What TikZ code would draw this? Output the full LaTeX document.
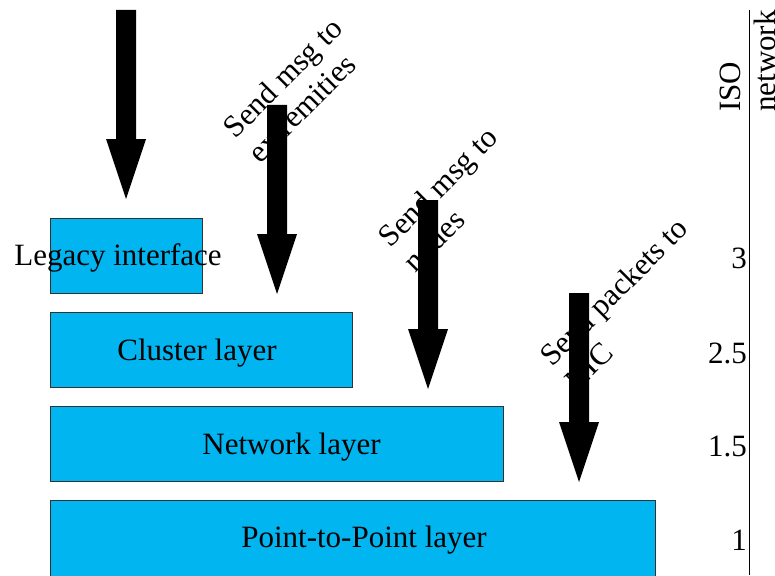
\documentclass[tikz,border=0pt]{standalone}
\usepackage{fontspec}
\setmainfont{Liberation Serif}
\definecolor{layerblue}{RGB}{0,181,240}
\begin{document}
\begin{tikzpicture}[x=1pt,y=-1pt,
	layer/.style={draw=black!80,line width=0.9pt,fill=layerblue,anchor=north west,inner sep=0pt,minimum height=75pt},
	txt/.style={inner sep=0pt,font=\fontsize{31}{35}\selectfont},
	sendlbl/.style={txt,align=left,rotate=45}]
\useasboundingbox (0,0) rectangle (775,575);
\node[layer,minimum width=152pt] (legacy) at (50,218) {};
\node[layer,minimum width=302pt] (cluster) at (50,312) {};
\node[layer,minimum width=453pt] (network) at (50,406) {};
\node[layer,minimum width=605pt,minimum height=80pt] (ptp) at (50,500) {};
\node[txt] (legacytxt) at (118,258) {Legacy interface};
\node[txt] (clustertxt) at (197,353) {Cluster layer};
\node[txt] (networktxt) at (291.5,447) {Network layer};
\node[txt] (ptptxt) at (364,540) {Point-to-Point layer};
\node[sendlbl] (lblext) at (295,90) {Send msg to\\extremities};
\node[sendlbl] (lblnodes) at (450,199) {Send msg to\\nodes};
\node[sendlbl] (lblnic) at (626,304) {Send packets to\\NIC};
\foreach \x/\y in {126/10,277/105,428/200,579/293}
	\fill (\x-10,\y) -- (\x+10,\y) -- (\x+10,\y+129) -- (\x+20,\y+129) -- (\x,\y+189) -- (\x-20,\y+129) -- (\x-10,\y+129) -- cycle;
\coordinate (isotop) at (749,10);
\coordinate (isobot) at (749,575);
\draw[line width=1pt] (isotop) -- (isobot);
\node[txt,align=left,rotate=90] (iso) at (748,61) {ISO\\network};
\foreach \v/\y in {3/258,2.5/353,1.5/446,1/540}
	\node[txt,anchor=east] (iso\v) at (747,\y) {\v};
\end{tikzpicture}
\end{document}
